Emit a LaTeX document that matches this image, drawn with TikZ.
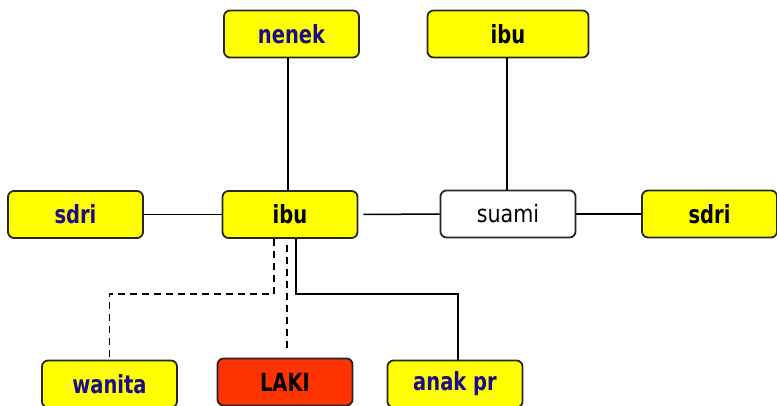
\documentclass[tikz,border=0pt]{standalone}
\usepackage{fontspec}
\usepackage{xcolor}
\usepackage{tikz}
\usetikzlibrary{calc, positioning}
\newfontfamily\boxfont[FakeStretch=0.78]{DejaVu Sans}
\newfontfamily\plainboxfont[FakeStretch=0.86]{DejaVu Sans}
\definecolor{boxyellow}{RGB}{255,255,0}
\definecolor{boxred}{RGB}{255,51,0}
\definecolor{namecol}{RGB}{26,10,140}

\begin{document}
\begin{tikzpicture}[x=1pt, y=1pt]
    % Block styles
    \tikzstyle{person} = [rectangle, draw=black!85, line width=1.8pt, rounded corners=6pt, minimum width=135pt, minimum height=47pt, inner sep=0pt, font=\boxfont\fontsize{25}{28}\selectfont\bfseries, fill=boxyellow]
    \tikzstyle{link} = [draw, line width=1.5pt]
    \tikzstyle{link_dashed} = [draw, line width=1.5pt, dash pattern=on 7pt off 5pt]
    \useasboundingbox (0,0) rectangle (777,-406);
    % Top row
    \node[person, text=namecol] (nenek) at (291.5,-34) {nenek};
    \node[person, minimum width=161pt] (ibu_top) at (508,-34) {ibu};
    % Middle row
    \node[person, text=namecol] (sdri_left) at (75.5,-214.5) {sdri};
    \node[person] (ibu) at (290,-214.5) {ibu};
    \node[person, fill=white, font=\plainboxfont\fontsize{24}{28}\selectfont] (suami) at (508,-214) {suami};
    \node[person] (sdri_right) at (709.5,-214) {sdri};
    % Bottom row
    \node[person, text=namecol] (wanita) at (109.5,-384) {wanita};
    \node[person, fill=boxred] (laki) at (285,-382) {LAKI};
    \node[person, text=namecol] (anak) at (455,-384) {anak pr};
    % Connections
    \draw[link] (nenek.south -| ibu.north) ++(-2,0) -- ([xshift=-2pt]ibu.north);
    \draw[link] (ibu_top.south) ++(-1,0) -- ([xshift=-1pt]suami.north);
    \draw[link] (sdri_left.east) -- (ibu.west);
    \draw[link] ([xshift=5pt]ibu.east) -- (suami.west);
    \draw[link] (suami.east) -- (sdri_right.west);
    \draw[link_dashed] ([xshift=-16pt]ibu.south) -- ++(0,-55) -| (wanita.north);
    \draw[link_dashed] ([xshift=-3pt,yshift=-6pt]ibu.south) -- ([xshift=2pt,yshift=6pt]laki.north);
    \draw[link] ([xshift=6pt]ibu.south) -- ++(0,-55) -| ([xshift=3pt]anak.north);
\end{tikzpicture}
\end{document}
